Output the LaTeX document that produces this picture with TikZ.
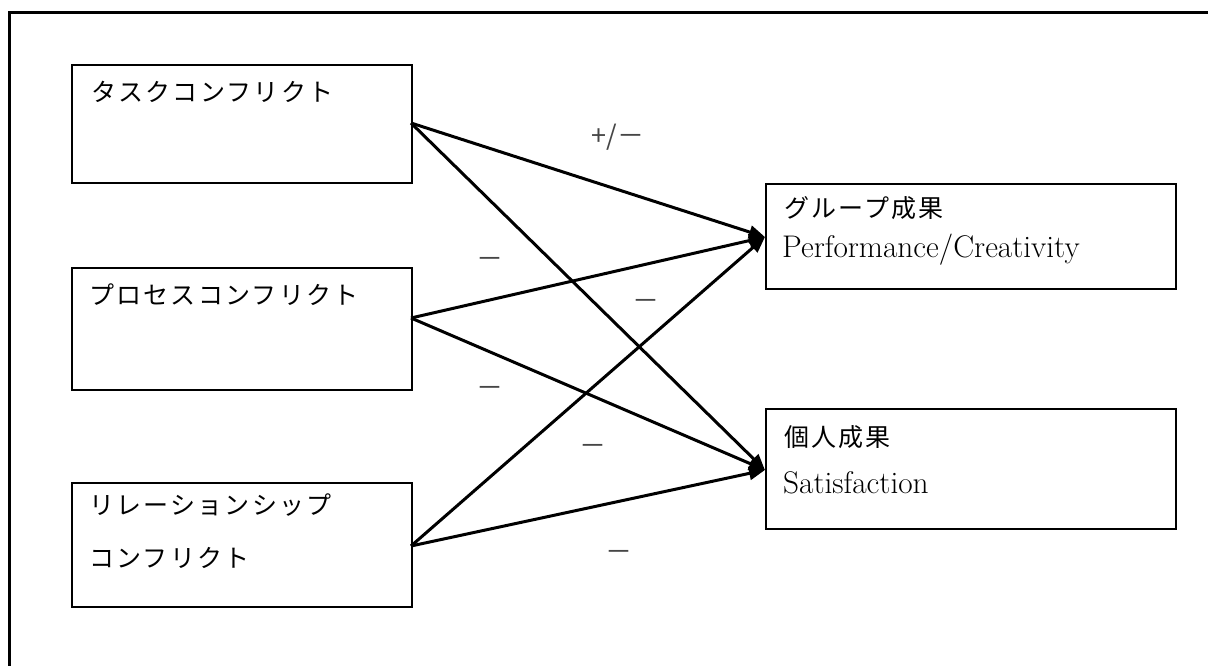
\documentclass[tikz,border=0pt]{standalone}
\usepackage{fontspec}
\newfontfamily\jpfont[LetterSpace=9]{Noto Sans CJK JP}
\newfontfamily\signfont{Noto Sans CJK JP}
\usetikzlibrary{arrows.meta}

\definecolor{signgray}{RGB}{70,70,70}

\tikzset{
  frame/.style={draw, line width=3pt},
  box/.style={draw, line width=2pt, inner sep=0pt, anchor=north west},
  jptext/.style={anchor=west, inner sep=0pt, font=\jpfont\fontsize{25}{25}\selectfont},
  entext/.style={anchor=west, inner sep=0pt, font=\fontsize{31.3}{31.3}\selectfont},
  sign/.style={inner sep=0pt, text=signgray, font=\signfont\fontsize{27}{27}\selectfont},
  link/.style={draw, line width=3pt, -{Triangle[length=16pt,width=13pt]}}
}

\begin{document}
\begin{tikzpicture}[x=1pt, y=-1pt]
  \useasboundingbox (0,0) rectangle (1208,666);

  % outer frame, running off the right and bottom edges
  \begin{scope}
    \clip (0,0) rectangle (1208,666);
    \draw[frame] (9,13) rectangle (1240,700);
  \end{scope}

  % conflict types
  \node[box, minimum width=340pt, minimum height=118pt] (task) at (71,64) {};
  \node[jptext] (taskT) at (91,92) {タスクコンフリクト};

  \node[box, minimum width=340pt, minimum height=122pt] (proc) at (71,267) {};
  \node[jptext] (procT) at (89,295) {プロセスコンフリクト};

  \node[box, minimum width=340pt, minimum height=124pt] (rel) at (71,482) {};
  \node[jptext] (relT1) at (89,505) {リレーションシップ};
  \node[jptext] (relT2) at (89,558) {コンフリクト};

  % outcomes
  \node[box, minimum width=410pt, minimum height=105pt] (grp) at (765,183) {};
  \node[jptext] (grpT) at (784,208) {グループ成果};
  \node[entext] (grpE) at (782,250) {Performance/Creativity};

  \node[box, minimum width=410pt, minimum height=120pt] (ind) at (765,408) {};
  \node[jptext] (indT) at (784,437) {個人成果};
  \node[entext] (indE) at (783,483) {Satisfaction};

  % attachment points
  \coordinate (taskOut) at (411,123);
  \coordinate (procOut) at (411,318);
  \coordinate (relOut) at (411,546);
  \coordinate (grpIn) at (765,237);
  \coordinate (indIn) at (765,470);

  % effects
  \draw[link] (taskOut) -- (grpIn);
  \draw[link] (taskOut) -- (indIn);
  \draw[link] (procOut) -- (grpIn);
  \draw[link] (procOut) -- (indIn);
  \draw[link] (relOut) -- (grpIn);
  \draw[link] (relOut) -- (indIn);

  % signs of the effects
  \node[sign] (s1) at (618,137) {+/－};
  \node[sign] (s2) at (490,263) {－};
  \node[sign] (s3) at (646,305) {－};
  \node[sign] (s4) at (490,392) {－};
  \node[sign] (s5) at (593,450) {－};
  \node[sign] (s6) at (619,556) {－};
\end{tikzpicture}
\end{document}
